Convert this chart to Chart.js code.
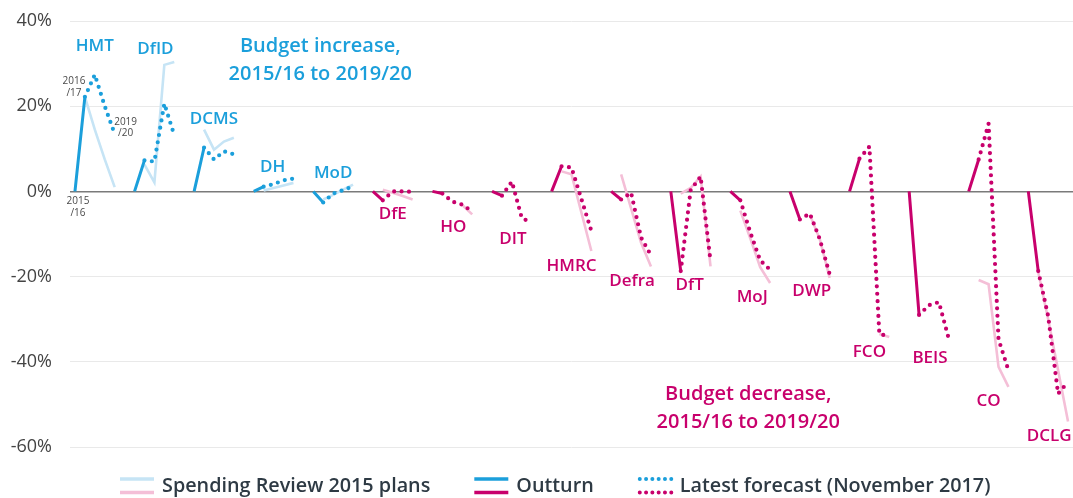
<!DOCTYPE html>
<html lang="en">
<head>
    <meta charset="UTF-8">
    <title>Departmental budgets, 2015/16 to 2019/20</title>
    <script src="https://cdn.jsdelivr.net/npm/chart.js"></script>
    <style>
        html, body { margin: 0; padding: 0; background: #fff; }
        #chartContainer { width: 1073px; height: 498px; position: relative; }
    </style>
</head>
<body>
    <div id="chartContainer">
        <canvas id="budgetChart"></canvas>
    </div>

    <script>
        // Departments, in the order they appear left to right
        const depts = ['HMT', 'DfID', 'DCMS', 'DH', 'MoD', 'DfE', 'HO', 'DIT', 'HMRC', 'Defra',
                       'DfT', 'MoJ', 'DWP', 'FCO', 'BEIS', 'CO', 'DCLG'];
        const increasing = ['HMT', 'DfID', 'DCMS', 'DH', 'MoD'];
        const years = ['2015/16', '2016/17', '2017/18', '2018/19', '2019/20'];
        const yTicks = [40, 20, 0, -20, -40, -60];

        // % change against 2015/16 (2015/16 itself is 0 for every department)
        const baseline1516 = 0;
        const outturn1617  = [22.2, 7.3, 10.3, 1.1, -2.6, -2.1, -0.5, -1.0, 5.9, -1.9, -18.7, -2.1, -6.6, 7.7, -29.0, 7.5, -18.7];
        const forecast1718 = [27.4, 7.0, 7.5, 1.7, -0.5, 0.0, -2.4, 2.3, 5.6, -0.3, 0.3, -9.6, -5.2, 10.5, -26.7, 15.9, -29.3];
        const forecast1819 = [20.0, 20.6, 9.4, 2.6, 0.3, 0.0, -3.1, -6.3, -1.8, -10.8, 3.5, -16.2, -11.2, -33.5, -26.0, -34.7, -47.5];
        const forecast1920 = [13.5, 13.2, 8.7, 3.0, 1.2, -0.1, -4.7, -7.3, -9.3, -15.0, -16.4, -18.4, -19.5, -34.0, -34.7, -42.0, -44.7];

        // Spending Review 2015 plans (null where the plan line is not shown)
        const plan1617 = [22.2, 6.3, 14.5, 0.2, -1.9, 0.4, null, null, 4.7, 4.0, -0.5, -4.5, null, null, null, -20.8, -19.0];
        const plan1718 = [14.5, 2.1, 9.8, 0.8, -0.8, -0.3, null, null, 4.0, -4.0, 0.8, -11.0, -5.5, null, null, -21.8, -30.0];
        const plan1819 = [7.5, 29.7, 11.7, 1.4, 0.4, -1.1, -3.2, null, -5.0, -12.0, 3.5, -17.8, -11.2, -33.5, null, -41.2, -42.0];
        const plan1920 = [1.0, 30.4, 12.6, 2.0, 1.6, -1.9, -5.4, null, -14.0, -17.6, -17.6, -21.5, -20.3, -34.2, null, -45.9, -54.0];

        // colours
        const BLUE = '#1b9fdb', BLUE_LIGHT = '#c6e4f5';
        const PINK = '#c8006c', PINK_LIGHT = '#f4bfd7';
        const FONT = "'Open Sans', 'Noto Sans', sans-serif";

        const GROUP = 6; // x units per department (4 intervals + gap)

        // build {x, y} points for one series, breaking the line between departments
        function points(cols, up) {
            const pts = [];
            depts.forEach((d, i) => {
                if (increasing.includes(d) !== up) return;
                cols.forEach(([j, src]) => {
                    const v = Array.isArray(src) ? src[i] : src;
                    pts.push({ x: i * GROUP + j, y: v });
                });
                pts.push({ x: i * GROUP + 4.5, y: null });
            });
            return pts;
        }

        const outturnCols  = [[0, baseline1516], [1, outturn1617]];
        const forecastCols = [[1, outturn1617], [2, forecast1718], [3, forecast1819], [4, forecast1920]];
        const planCols     = [[1, plan1617], [2, plan1718], [3, plan1819], [4, plan1920]];

        const datasets = [];
        [true, false].forEach(up => {
            datasets.push({
                label: 'Latest forecast (November 2017)',
                data: points(forecastCols, up),
                borderColor: up ? BLUE : PINK,
                borderWidth: 4.2,
                borderDash: [0, 7.4],
                borderCapStyle: 'round',
                borderJoinStyle: 'round',
                order: 0
            });
            datasets.push({
                label: 'Outturn',
                data: points(outturnCols, up),
                borderColor: up ? BLUE : PINK,
                borderWidth: 3,
                order: 1
            });
            datasets.push({
                label: 'Spending Review 2015 plans',
                data: points(planCols, up),
                borderColor: up ? BLUE_LIGHT : PINK_LIGHT,
                borderWidth: 2.6,
                order: 2
            });
        });

        // text annotations, placed in data units (x unit, y %)
        const deptLabelPos = [
            [2.0, 34.0], [8.1, 33.3], [14.0, 16.9], [19.9, 5.6], [26.0, 4.2], [32.0, -5.3],
            [38.1, -8.4], [44.1, -11.2], [50.0, -17.6], [56.1, -21.1], [61.9, -21.9],
            [68.2, -24.8], [74.2, -23.5], [80.0, -37.7], [86.1, -39.2], [92.0, -49.2], [98.1, -57.4]
        ];
        const notes = [
            { lines: ['Budget increase,', '2015/16 to 2019/20'], x: 24.7, y: 34.0, color: BLUE },
            { lines: ['Budget decrease,', '2015/16 to 2019/20'], x: 67.8, y: -47.6, color: PINK }
        ];
        const yearNotes = [
            { lines: ['2015', '/16'], x: 0.3, y: -2.4 },
            { lines: ['2016', '/17'], x: -0.1, y: 25.8 },
            { lines: ['2019', '/20'], x: 5.1, y: 16.3 }
        ];

        const annotations = {
            id: 'annotations',
            afterDatasetsDraw(chart) {
                const { ctx, scales: { x, y } } = chart;
                ctx.save();
                ctx.textAlign = 'center';
                ctx.textBaseline = 'middle';

                ctx.font = '600 17px ' + FONT;
                depts.forEach((d, i) => {
                    ctx.fillStyle = increasing.includes(d) ? BLUE : PINK;
                    ctx.fillText(d, x.getPixelForValue(deptLabelPos[i][0]), y.getPixelForValue(deptLabelPos[i][1]));
                });

                ctx.font = '600 20px ' + FONT;
                notes.forEach(n => {
                    ctx.fillStyle = n.color;
                    n.lines.forEach((t, k) => {
                        ctx.fillText(t, x.getPixelForValue(n.x), y.getPixelForValue(n.y) + k * 28);
                    });
                });

                ctx.font = '10px ' + FONT;
                ctx.fillStyle = '#4a4a4a';
                yearNotes.forEach(n => {
                    n.lines.forEach((t, k) => {
                        ctx.fillText(t, x.getPixelForValue(n.x), y.getPixelForValue(n.y) + k * 11.5);
                    });
                });

                // legend: two stacked swatches (increase / decrease) for each series
                const items = [
                    { text: 'Spending Review 2015 plans', top: BLUE_LIGHT, bottom: PINK_LIGHT, dotted: false },
                    { text: 'Outturn', top: BLUE, bottom: PINK, dotted: false },
                    { text: 'Latest forecast (November 2017)', top: BLUE, bottom: PINK, dotted: true }
                ];
                ctx.font = '600 19.8px ' + FONT;
                ctx.textAlign = 'left';
                let lx = 120;
                const ly = 486;
                items.forEach(it => {
                    [[it.top, ly - 7], [it.bottom, ly + 6.5]].forEach(([c, yy]) => {
                        ctx.beginPath();
                        ctx.strokeStyle = c;
                        if (it.dotted) {
                            ctx.lineWidth = 4;
                            ctx.lineCap = 'round';
                            ctx.setLineDash([0, 6.3]);
                            ctx.moveTo(lx + 2, yy);
                            ctx.lineTo(lx + 34, yy);
                        } else {
                            ctx.lineWidth = 3.6;
                            ctx.lineCap = 'butt';
                            ctx.setLineDash([]);
                            ctx.moveTo(lx, yy);
                            ctx.lineTo(lx + 34, yy);
                        }
                        ctx.stroke();
                    });
                    ctx.setLineDash([]);
                    ctx.fillStyle = '#2e3a44';
                    ctx.fillText(it.text, lx + 42, ly);
                    lx += 42 + ctx.measureText(it.text).width + 44;
                });
                ctx.restore();
            }
        };

        const ctx = document.getElementById('budgetChart').getContext('2d');
        const budgetChart = new Chart(ctx, {
            type: 'line',
            data: { datasets: datasets },
            options: {
                responsive: true,
                maintainAspectRatio: false,
                animation: false,
                elements: { point: { radius: 0, hoverRadius: 0 }, line: { tension: 0 } },
                layout: { padding: { top: 21, bottom: 51, left: 0, right: 0 } },
                plugins: { legend: { display: false }, tooltip: { enabled: false } },
                scales: {
                    x: { type: 'linear', min: -0.5, max: 100.5, display: false },
                    y: {
                        min: yTicks[yTicks.length - 1],
                        max: yTicks[0],
                        afterBuildTicks: scale => { scale.ticks = yTicks.map(v => ({ value: v })); },
                        afterFit: scale => {
                            scale.width = 70;
                            scale.paddingTop = 0;
                            scale.paddingBottom = 0;
                        },
                        ticks: {
                            padding: 18,
                            color: '#444',
                            font: { family: FONT, size: 18 },
                            callback: v => v + '%'
                        },
                        grid: {
                            drawTicks: false,
                            color: c => c.tick && c.tick.value === 0 ? '#7a7a7a' : '#e9e9e9',
                            lineWidth: c => c.tick && c.tick.value === 0 ? 1.6 : 1
                        },
                        border: { display: false }
                    }
                }
            },
            plugins: [annotations]
        });
    </script>
</body>
</html>
